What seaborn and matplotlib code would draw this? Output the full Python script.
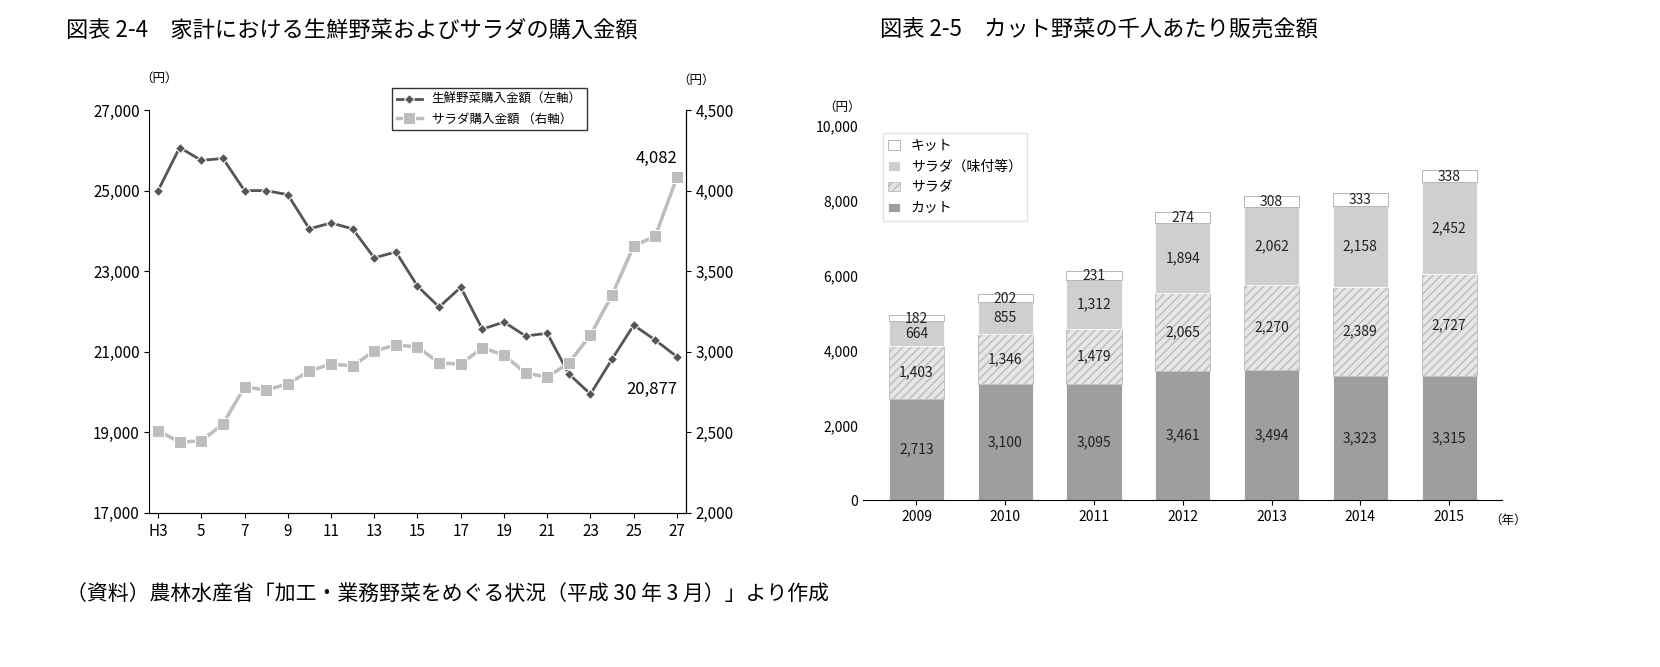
import numpy as np
import pandas as pd
import seaborn as sns
import matplotlib.pyplot as plt

plt.rcParams['font.family'] = ['Noto Sans CJK JP', 'DejaVu Sans']

# ---- data: 図表2-4 ----
years_h = list(range(3, 28))
year_labels = ['H3', '5', '7', '9', '11', '13', '15', '17', '19', '21', '23', '25', '27']
veg = [25000, 26070, 25750, 25800, 25000, 25000, 24900, 24050, 24200, 24050, 23330, 23480,
       22630, 22110, 22600, 21560, 21740, 21390, 21460, 20450, 19950, 20820, 21660, 21290, 20877]
salad = [2509, 2440, 2447, 2552, 2782, 2763, 2800, 2881, 2924, 2912, 3005, 3042,
         3030, 2930, 2924, 3024, 2980, 2868, 2843, 2930, 3104, 3352, 3656, 3718, 4082]

# ---- data: 図表2-5 ----
cal_years = ['2009', '2010', '2011', '2012', '2013', '2014', '2015']
cut = [2713, 3100, 3095, 3461, 3494, 3323, 3315]
salad_plain = [1403, 1346, 1479, 2065, 2270, 2389, 2727]
salad_seasoned = [664, 855, 1312, 1894, 2062, 2158, 2452]
kit = [182, 202, 231, 274, 308, 333, 338]

fig = plt.figure(figsize=(16.6, 6.67), dpi=100)
fig.patch.set_facecolor('white')

# ---------- left chart ----------
ax = fig.add_axes([0.09, 0.231, 0.323, 0.604])
ax2 = ax.twinx()
df = pd.DataFrame({'x': years_h, 'veg': veg, 'salad': salad})
sns.lineplot(data=df, x='x', y='veg', ax=ax, color='#555555', marker='D', markersize=5,
             linewidth=2, label='生鮮野菜購入金額（左軸）', legend=False)
sns.lineplot(data=df, x='x', y='salad', ax=ax2, color='#bdbdbd', marker='s', markersize=8,
             linewidth=2.5, label='サラダ購入金額 （右軸）', legend=False)
ax.set_ylim(17000, 27000)
ax2.set_ylim(2000, 4500)
ax.set_yticks(range(17000, 27001, 2000))
ax.set_yticklabels([f'{v:,}' for v in range(17000, 27001, 2000)])
ax2.set_yticks(range(2000, 4501, 500))
ax2.set_yticklabels([f'{v:,}' for v in range(2000, 4501, 500)])
ax.set_xlim(2.6, 27.4)
ax.set_xticks(range(3, 28, 2))
ax.set_xticklabels(year_labels)
ax.set_xlabel('')
ax.set_ylabel('')
ax2.set_ylabel('')
for a in (ax, ax2):
    a.spines['top'].set_visible(False)
    a.tick_params(labelsize=11, direction='out')
ax2.spines['left'].set_visible(False)
ax.text(2.2, 27700, '（円）', fontsize=9)
ax2.text(27.0, 4660, '（円）', fontsize=9)
ax2.text(27.0, 4170, '4,082', ha='right', fontsize=12)
ax.text(27.0, 19950, '20,877', ha='right', fontsize=12)
h1, l1 = ax.get_legend_handles_labels()
h2, l2 = ax2.get_legend_handles_labels()
ax.legend(h1 + h2, l1 + l2, loc='upper left', bbox_to_anchor=(0.44, 1.07),
          fontsize=9, frameon=True, fancybox=False, edgecolor='black')
fig.text(0.04, 0.945, '図表 2-4　家計における生鮮野菜およびサラダの購入金額', fontsize=16)

# ---------- right chart ----------
bx = fig.add_axes([0.52, 0.25, 0.385, 0.561])
layers = [
    (cut, 'カット', '#9e9e9e', None, 'white'),
    (salad_plain, 'サラダ', '#e6e6e6', '////', '#bbbbbb'),
    (salad_seasoned, 'サラダ（味付等）', '#cfcfcf', None, 'white'),
    (kit, 'キット', '#ffffff', None, '#aaaaaa'),
]
bottom = np.zeros(len(cal_years))
for vals, name, col, hatch, edge in layers:
    sns.barplot(x=cal_years, y=vals, ax=bx, color=col, bottom=bottom, width=0.62,
                edgecolor=edge, hatch=hatch, linewidth=0.6, label=name)
    for i, v in enumerate(vals):
        yy = bottom[i] + v / 2 if name != 'キット' else bottom[i] + v / 2 - 20
        bx.text(i, yy, f'{v:,}', ha='center', va='center', fontsize=10, color='#222222')
    bottom = bottom + np.array(vals)
bx.set_ylim(0, 10000)
bx.set_yticks(range(0, 10001, 2000))
bx.set_yticklabels([f'{v:,}' for v in range(0, 10001, 2000)])
bx.set_xlim(-0.6, 6.6)
for s in ('top', 'right'):
    bx.spines[s].set_visible(False)
bx.spines['left'].set_visible(False)
bx.tick_params(axis='y', length=0, labelsize=10)
bx.tick_params(axis='x', labelsize=10)
bx.text(-1.05, 10400, '（円）', fontsize=9)
bx.text(6.45, -620, '（年）', fontsize=9)
h, l = bx.get_legend_handles_labels()
bx.legend(h[::-1], l[::-1], loc='upper left', bbox_to_anchor=(0.02, 1.0), fontsize=10,
          frameon=True, fancybox=False, edgecolor='#dddddd', handlelength=0.8)
fig.text(0.53, 0.945, '図表 2-5　カット野菜の千人あたり販売金額', fontsize=16)

fig.text(0.04, 0.1, '（資料）農林水産省「加工・業務野菜をめぐる状況（平成 30 年 3 月）」より作成', fontsize=15)

fig.savefig('out.png', dpi=100, facecolor='white')
